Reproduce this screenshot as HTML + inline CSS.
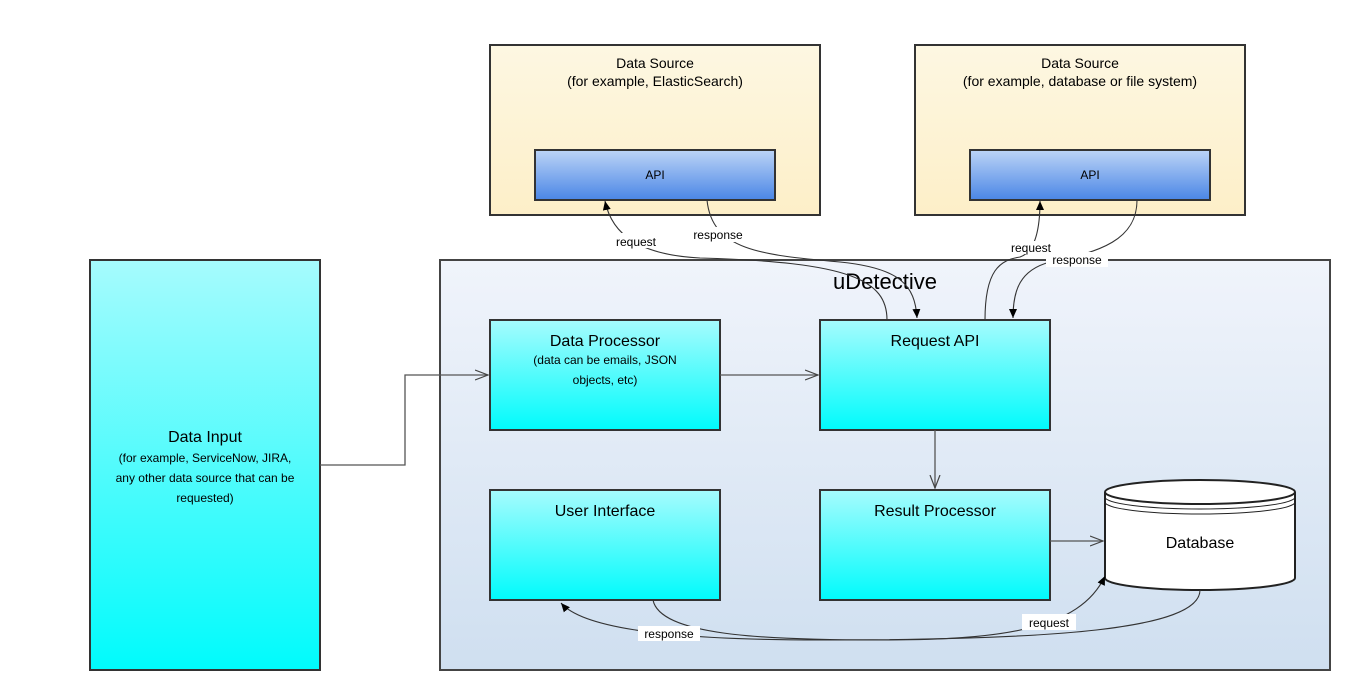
<!DOCTYPE html>
<html><head><meta charset="utf-8"><style>
html,body{margin:0;padding:0;background:#fff;}
svg{display:block;font-family:"Liberation Sans",Arial,sans-serif;}
</style></head><body>
<svg width="1350" height="690" viewBox="0 0 1350 690" xmlns="http://www.w3.org/2000/svg">
<defs>
<linearGradient id="cy" x1="0" y1="0" x2="0" y2="1"><stop offset="0" stop-color="#a6fbfd"/><stop offset="1" stop-color="#00fbfc"/></linearGradient>
<linearGradient id="bl" x1="0" y1="0" x2="0" y2="1"><stop offset="0" stop-color="#bcd4f6"/><stop offset="1" stop-color="#4a86e6"/></linearGradient>
<linearGradient id="ds" x1="0" y1="0" x2="0" y2="1"><stop offset="0" stop-color="#fdf7e2"/><stop offset="1" stop-color="#fdefc8"/></linearGradient>
<linearGradient id="ud" x1="0" y1="0" x2="0" y2="1"><stop offset="0" stop-color="#f0f4fb"/><stop offset="1" stop-color="#cfdff0"/></linearGradient>
<marker id="open" markerWidth="14" markerHeight="12" refX="13" refY="6" orient="auto" markerUnits="userSpaceOnUse"><path d="M0,1 L13,6 L0,11" fill="none" stroke="#444" stroke-width="1.2"/></marker>
<marker id="fill" markerWidth="10" markerHeight="10" refX="9" refY="5" orient="auto" markerUnits="userSpaceOnUse"><path d="M0,1 L9,5 L0,9 Z" fill="#000"/></marker>
</defs>

<!-- Data sources -->
<rect x="490" y="45" width="330" height="170" fill="url(#ds)" stroke="#333" stroke-width="2"/>
<text x="655" y="68" font-size="14" text-anchor="middle">Data Source</text>
<text x="655" y="86" font-size="14" text-anchor="middle">(for example, ElasticSearch)</text>
<rect x="535" y="150" width="240" height="50" fill="url(#bl)" stroke="#333" stroke-width="2"/>
<text x="655" y="179" font-size="12" text-anchor="middle">API</text>

<rect x="915" y="45" width="330" height="170" fill="url(#ds)" stroke="#333" stroke-width="2"/>
<text x="1080" y="68" font-size="14" text-anchor="middle">Data Source</text>
<text x="1080" y="86" font-size="14" text-anchor="middle">(for example, database or file system)</text>
<rect x="970" y="150" width="240" height="50" fill="url(#bl)" stroke="#333" stroke-width="2"/>
<text x="1090" y="179" font-size="12" text-anchor="middle">API</text>

<!-- Data input -->
<rect x="90" y="260" width="230" height="410" fill="url(#cy)" stroke="#333" stroke-width="2"/>
<text x="205" y="442" font-size="16" text-anchor="middle">Data Input</text>
<text x="205" y="462" font-size="12" text-anchor="middle">(for example, ServiceNow, JIRA,</text>
<text x="205" y="482" font-size="12" text-anchor="middle">any other data source that can be</text>
<text x="205" y="502" font-size="12" text-anchor="middle">requested)</text>

<!-- uDetective -->
<rect x="440" y="260" width="890" height="410" fill="url(#ud)" stroke="#444" stroke-width="2"/>
<text x="885" y="289" font-size="22" text-anchor="middle">uDetective</text>

<rect x="490" y="320" width="230" height="110" fill="url(#cy)" stroke="#333" stroke-width="2"/>
<text x="605" y="346" font-size="16" text-anchor="middle">Data Processor</text>
<text x="605" y="364" font-size="12" text-anchor="middle">(data can be emails, JSON</text>
<text x="605" y="384" font-size="12" text-anchor="middle">objects, etc)</text>

<rect x="820" y="320" width="230" height="110" fill="url(#cy)" stroke="#333" stroke-width="2"/>
<text x="935" y="346" font-size="16" text-anchor="middle">Request API</text>

<rect x="490" y="490" width="230" height="110" fill="url(#cy)" stroke="#333" stroke-width="2"/>
<text x="605" y="516" font-size="16" text-anchor="middle">User Interface</text>

<rect x="820" y="490" width="230" height="110" fill="url(#cy)" stroke="#333" stroke-width="2"/>
<text x="935" y="516" font-size="16" text-anchor="middle">Result Processor</text>

<!-- Database -->
<path d="M1105,492 L1105,578 A95,12 0 0 0 1295,578 L1295,492" fill="#fff" stroke="#222" stroke-width="2"/>
<ellipse cx="1200" cy="492" rx="95" ry="12" fill="#fff" stroke="#222" stroke-width="2"/>
<path d="M1105,497 A95,12 0 0 0 1295,497" fill="none" stroke="#222" stroke-width="1"/>
<path d="M1105,502 A95,12 0 0 0 1295,502" fill="none" stroke="#222" stroke-width="1"/>
<text x="1200" y="548" font-size="16" text-anchor="middle">Database</text>

<!-- straight connectors -->
<path d="M320,465 H405 V375 H488" fill="none" stroke="#555" stroke-width="1.3" marker-end="url(#open)"/>
<path d="M720,375 H818" fill="none" stroke="#555" stroke-width="1.3" marker-end="url(#open)"/>
<path d="M935,430 V488" fill="none" stroke="#555" stroke-width="1.3" marker-end="url(#open)"/>
<path d="M1050,541 H1103" fill="none" stroke="#555" stroke-width="1.3" marker-end="url(#open)"/>

<!-- curved connectors -->
<g fill="none" stroke="#333" stroke-width="1.1">
<path d="M887,320 C887,280 850,262 700,258 C640,255 612,235 605,201" marker-end="url(#fill)"/>
<path d="M707,200 C712,250 760,255 840,262 C900,268 915,285 917,318" marker-end="url(#fill)"/>
<path d="M985,320 C985,270 1000,260 1020,257 C1035,252 1040,230 1040,201" marker-end="url(#fill)"/>
<path d="M1137,200 C1137,240 1100,252 1050,262 C1020,270 1013,290 1013,318" marker-end="url(#fill)"/>
<path d="M1200,590 C1200,630 1050,640 820,640 C650,640 580,625 561,603" marker-end="url(#fill)"/>
<path d="M653,600 C660,635 760,640 880,640 C1000,640 1080,630 1105,576" marker-end="url(#fill)"/>
</g>

<!-- labels -->
<g font-size="12" text-anchor="middle">
<rect x="610" y="233" width="52" height="15" fill="#fff"/><text x="636" y="246">request</text>
<rect x="687" y="227" width="62" height="15" fill="#fff"/><text x="718" y="239">response</text>
<rect x="1005" y="241" width="52" height="13" fill="#fff"/><text x="1031" y="252">request</text>
<rect x="1046" y="252" width="62" height="15" fill="#fff"/><text x="1077" y="264">response</text>
<rect x="638" y="626" width="62" height="15" fill="#fff"/><text x="669" y="638">response</text>
<rect x="1022" y="614" width="54" height="16" fill="#fff"/><text x="1049" y="627">request</text>
</g>
</svg>
</body></html>
